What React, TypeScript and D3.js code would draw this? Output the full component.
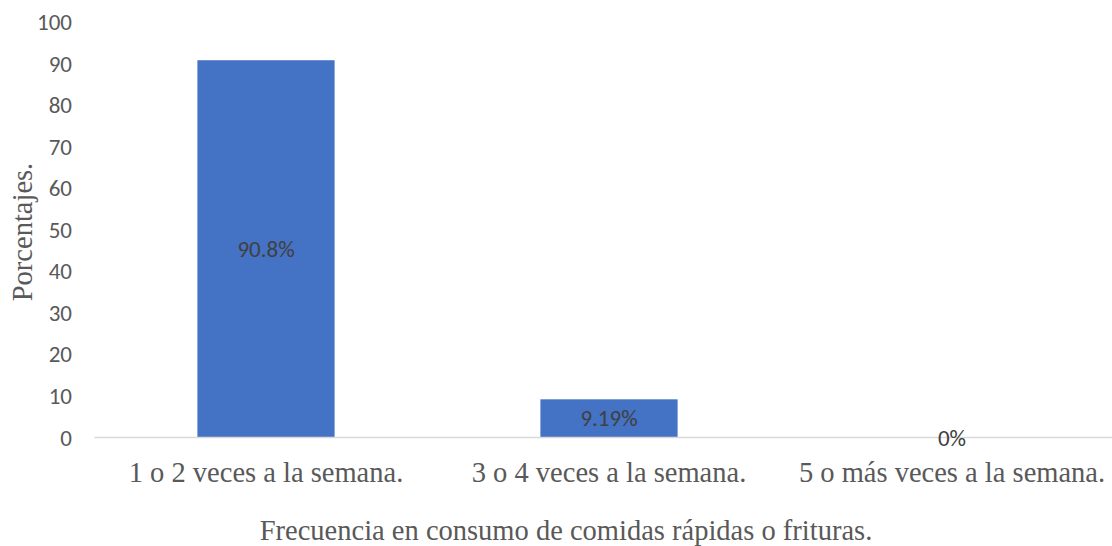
import React from "react";
import * as d3 from "d3";

const categories = [
  "1 o 2 veces a la semana.",
  "3 o 4 veces a la semana.",
  "5 o más veces a la semana.",
];
const values = [90.8, 9.19, 0];
const valueLabels = ["90.8%", "9.19%", "0%"];
const yTicks = [0, 10, 20, 30, 40, 50, 60, 70, 80, 90, 100];
const xTitle = "Frecuencia en consumo de comidas rápidas o frituras.";
const yTitle = "Porcentajes.";

const W = 1112;
const H = 546;
const sansFont = "Calibri, Carlito, 'Open Sans', sans-serif";
const serifFont = "'Times New Roman', 'Liberation Serif', serif";

export default function App() {
  const x = d3
    .scaleBand<string>()
    .domain(categories)
    .range([94.5, 1123.5])
    .paddingInner(0.6)
    .paddingOuter(0.3);
  const y = d3.scaleLinear().domain([0, 100]).range([437.5, 22]);

  return (
    <svg
      width={W}
      height={H}
      style={{ position: "absolute", left: 0, top: 0, background: "#fff" }}
    >
      {yTicks.map((t) => (
        <text
          key={t}
          x={72}
          y={y(t)}
          textAnchor="end"
          dominantBaseline="central"
          fontFamily={sansFont}
          fontSize={23}
          fill="#595959"
        >
          {t}
        </text>
      ))}
      {categories.map((c, i) => (
        <rect
          key={c}
          x={x(c)}
          y={y(values[i])}
          width={x.bandwidth()}
          height={y(0) - y(values[i])}
          fill="#4472C4"
        />
      ))}
      <line x1={94.5} x2={W} y1={y(0)} y2={y(0)} stroke="#D9D9D9" strokeWidth={1.5} />
      {categories.map((c, i) => (
        <text
          key={"l" + c}
          x={(x(c) as number) + x.bandwidth() / 2}
          y={(y(values[i]) + y(0)) / 2}
          textAnchor="middle"
          dominantBaseline="central"
          fontFamily={sansFont}
          fontSize={23}
          fill="#404040"
        >
          {valueLabels[i]}
        </text>
      ))}
      {categories.map((c) => (
        <text
          key={"c" + c}
          x={(x(c) as number) + x.bandwidth() / 2}
          y={482}
          textAnchor="middle"
          fontFamily={serifFont}
          fontSize={28.5}
          fill="#595959"
        >
          {c}
        </text>
      ))}
      <text
        x={566}
        y={540}
        textAnchor="middle"
        fontFamily={serifFont}
        fontSize={28.5}
        fill="#595959"
      >
        {xTitle}
      </text>
      <text
        transform={`translate(32,232) rotate(-90)`}
        textAnchor="middle"
        fontFamily={serifFont}
        fontSize={28.5}
        fill="#595959"
      >
        {yTitle}
      </text>
    </svg>
  );
}
